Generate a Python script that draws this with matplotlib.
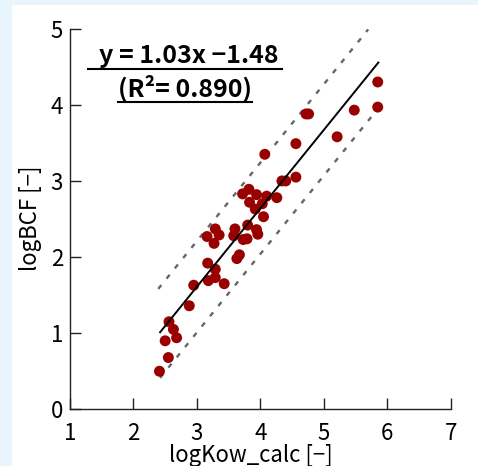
import numpy as np
import matplotlib
matplotlib.use('Agg')
import matplotlib.pyplot as plt
from matplotlib.patches import Rectangle
from matplotlib.lines import Line2D

plt.rcParams['font.family'] = ['Noto Sans CJK JP', 'DejaVu Sans']

# calculated logKow vs measured logBCF
log_kow = [2.41, 2.55, 2.50, 2.68, 2.63, 2.56, 2.88, 2.95, 3.17, 3.18,
           3.29, 3.29, 3.43, 3.16, 3.29, 3.27, 3.35, 3.60, 3.58, 3.63,
           3.67, 3.73, 3.79, 3.80, 3.94, 3.96, 3.92, 3.83, 3.72, 3.82,
           3.94, 4.03, 4.05, 4.10, 4.26, 4.34, 4.40, 4.56, 4.56, 4.07,
           4.72, 4.76, 5.21, 5.48, 5.85, 5.85]
log_bcf = [0.50, 0.68, 0.90, 0.94, 1.05, 1.15, 1.36, 1.63, 1.92, 1.69,
           1.84, 1.73, 1.65, 2.27, 2.37, 2.18, 2.29, 2.37, 2.28, 1.98,
           2.03, 2.23, 2.24, 2.42, 2.36, 2.30, 2.63, 2.72, 2.83, 2.89,
           2.82, 2.70, 2.53, 2.80, 2.78, 3.00, 3.00, 3.05, 3.49, 3.35,
           3.88, 3.88, 3.58, 3.93, 3.97, 4.30]

# fitted line and +/- band
slope = 1.03
intercept = -1.48
r2 = 0.890
band = 0.6
fit_x = [2.42, 5.86]
upper_x = [2.39, 5.70]
lower_x = [2.42, 5.86]

fig = plt.figure(figsize=(4.78, 4.66), dpi=100)
fig.patch.set_facecolor('#e9f5fd')
# white panel behind the plot
fig.patches.append(Rectangle((12 / 478, 0), 1, 1 - 5 / 466, transform=fig.transFigure,
                             facecolor='white', edgecolor='none', zorder=-10))

ax = fig.add_axes([70 / 478, 56.7 / 466, 380.7 / 478, 380.6 / 466])
ax.set_facecolor('white')

fx = np.array(fit_x)
ux = np.array(upper_x)
lx = np.array(lower_x)
dash = (0, (2.1, 3.5))
ax.plot(ux, slope * ux + intercept + band, color='#666666', lw=1.7,
        linestyle=dash, zorder=2)
ax.plot(lx, slope * lx + intercept - band, color='#666666', lw=1.7,
        linestyle=dash, zorder=2)
ax.scatter(log_kow, log_bcf, s=62, color='#990000', edgecolors='none', zorder=3)
ax.plot(fx, slope * fx + intercept, color='black', lw=1.4, zorder=4)

ax.set_xlim(1, 7)
ax.set_ylim(0, 5)
ax.set_xticks(range(1, 8))
ax.set_yticks(range(0, 6))
for side in ['top', 'right']:
    ax.spines[side].set_visible(False)
for side in ['left', 'bottom']:
    ax.spines[side].set_linewidth(1.0)
    ax.spines[side].set_color('#222222')
ax.tick_params(direction='in', length=8, width=1.0, labelsize=16, color='#222222')
ax.tick_params(axis='x', pad=9)
ax.tick_params(axis='y', pad=5)

ax.set_xlabel('logKow_calc [−]', fontsize=16, va='top')
ax.xaxis.set_label_coords(0.475, -0.092)
ax.set_ylabel('logBCF [−]', fontsize=16, va='center')
ax.yaxis.set_label_coords(-0.105, 0.503)

# equation with underlines
ax.text(0.311, 0.928, f'y = {slope:.2f}x −{abs(intercept):.2f}', transform=ax.transAxes,
        ha='center', va='center', fontsize=18, fontweight='bold')
ax.text(0.302, 0.844, f'(R²= {r2:.3f})', transform=ax.transAxes,
        ha='center', va='center', fontsize=18, fontweight='bold')
ax.add_line(Line2D([0.047, 0.557], [0.894, 0.894], transform=ax.transAxes,
                   color='black', lw=1.5))
ax.add_line(Line2D([0.126, 0.478], [0.807, 0.807], transform=ax.transAxes,
                   color='black', lw=1.5))

fig.savefig('out.png', dpi=100, facecolor=fig.get_facecolor())
